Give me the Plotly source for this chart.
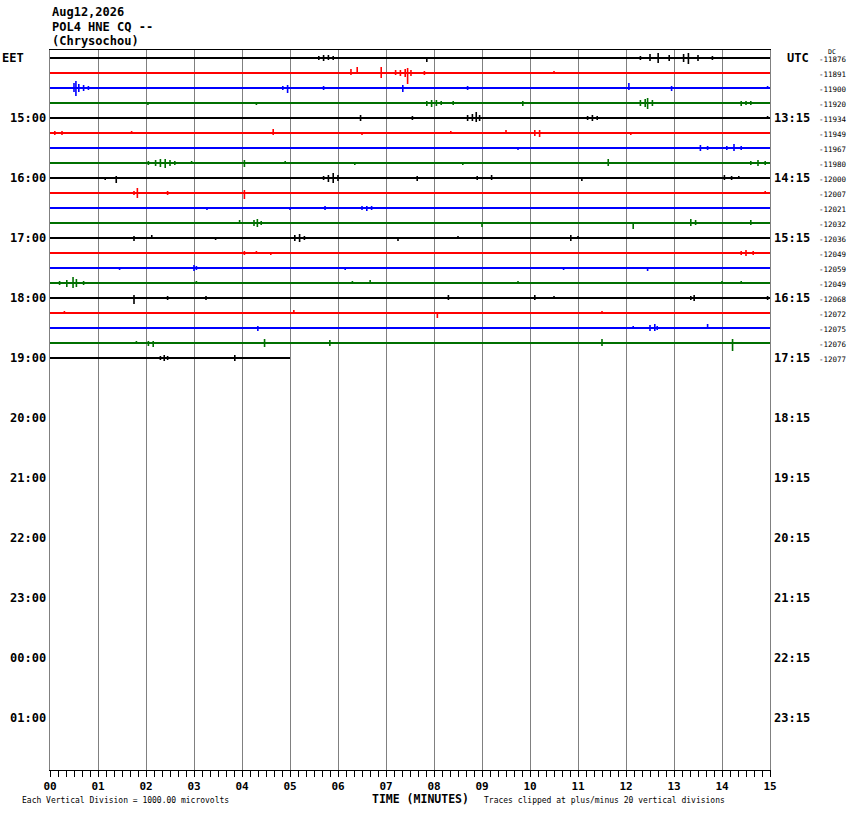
import plotly.graph_objects as go

# helicorder page: 15-minute rows, station POL4 HNE CQ
date_label = "Aug12,2026"
station_label = "POL4 HNE CQ --"
site_label = "(Chrysochou)"

n_rows = 48                      # 12 hours of 15-minute lines on the page
last_row = 20                    # row still being recorded
last_row_end = 5.0               # minutes written on the last row
trace_colors = ["#000000", "#ff0000", "#0000ff", "#007000"]

eet_labels = ["15:00", "16:00", "17:00", "18:00", "19:00", "20:00",
              "21:00", "22:00", "23:00", "00:00", "01:00"]
utc_labels = ["13:15", "14:15", "15:15", "16:15", "17:15", "18:15",
              "19:15", "20:15", "21:15", "22:15", "23:15"]
dc_values = [-11876, -11891, -11900, -11920, -11934, -11949, -11967,
             -11980, -12000, -12007, -12021, -12032, -12036, -12049,
             -12059, -12049, -12068, -12072, -12075, -12076, -12077]

minute_labels = ["%02d" % m for m in range(16)]

# wiggles read off each row: (minute, deflection up, deflection down)
# deflection in 1/15 of the line spacing
events = {
    0: [(5.6, 2, 2), (5.7, 3, 3), (5.8, 3, 2), (5.9, 2, 2), (7.85, 1, 4),
        (12.3, 2, 2), (12.5, 4, 3), (12.67, 5, 5), (12.9, 3, 3),
        (13.2, 4, 4), (13.3, 5, 6), (13.5, 3, 3), (13.8, 2, 2)],
    1: [(6.27, 4, 2), (6.4, 6, 1), (6.9, 6, 5), (7.2, 3, 2), (7.3, 3, 3),
        (7.4, 4, 4), (7.45, 5, 11), (7.52, 3, 3), (7.8, 2, 2), (10.5, 2, 1)],
    2: [(0.5, 5, 4), (0.54, 7, 8), (0.6, 4, 4), (0.7, 3, 3), (0.8, 2, 2),
        (4.85, 2, 2), (4.95, 3, 5), (5.7, 2, 2), (7.35, 3, 4), (8.7, 2, 2),
        (12.06, 5, 2), (12.95, 2, 3), (14.95, 2, 1)],
    3: [(2.04, 1, 2), (4.3, 1, 2), (7.85, 2, 3), (7.95, 3, 4), (8.05, 3, 3),
        (8.15, 2, 2), (8.4, 2, 2), (9.85, 2, 3), (12.3, 3, 3), (12.4, 4, 4),
        (12.45, 5, 6), (12.55, 3, 3), (14.4, 2, 3), (14.5, 2, 2), (14.6, 2, 2)],
    4: [(6.47, 3, 3), (7.55, 2, 2), (8.7, 3, 3), (8.8, 4, 3), (8.88, 6, 4),
        (8.95, 3, 3), (11.2, 2, 2), (11.3, 3, 3), (11.4, 2, 2), (14.95, 2, 1)],
    5: [(0.1, 2, 2), (0.25, 2, 2), (1.7, 2, 1), (4.65, 4, 2), (6.5, 1, 2),
        (8.35, 2, 1), (9.5, 3, 1), (10.1, 3, 3), (10.2, 3, 4), (12.1, 1, 2)],
    6: [(0.75, 1, 1), (1.55, 1, 1), (9.75, 1, 2), (13.55, 3, 3),
        (13.7, 2, 2), (14.1, 2, 2), (14.25, 4, 3), (14.4, 2, 2)],
    7: [(2.05, 2, 2), (2.2, 3, 3), (2.3, 4, 4), (2.4, 4, 5), (2.5, 3, 3),
        (2.6, 2, 2), (2.95, 2, 1), (4.05, 3, 4), (4.9, 2, 1), (6.35, 1, 2),
        (8.6, 1, 2), (11.63, 4, 3), (14.6, 2, 2), (14.75, 3, 3), (14.9, 2, 2)],
    8: [(1.15, 0, 2), (1.38, 2, 5), (5.7, 2, 2), (5.8, 3, 4), (5.9, 5, 5),
        (6.0, 3, 3), (7.65, 2, 3), (8.9, 2, 2), (9.2, 3, 2), (11.08, 0, 3),
        (14.05, 3, 2), (14.2, 2, 2), (14.35, 2, 1)],
    9: [(0.77, 1, 1), (1.75, 2, 2), (1.82, 5, 5), (2.45, 2, 2),
        (4.05, 3, 6), (14.9, 2, 1)],
    10: [(3.27, 1, 2), (5.0, 1, 2), (5.73, 2, 2), (6.5, 2, 2), (6.6, 2, 3),
         (6.7, 2, 2), (7.45, 1, 1)],
    11: [(3.95, 3, 0), (4.25, 3, 3), (4.32, 4, 4), (4.4, 2, 2), (9.0, 0, 4),
         (12.15, 0, 6), (13.35, 4, 3), (13.45, 3, 2), (14.6, 3, 2)],
    12: [(1.75, 2, 3), (2.12, 3, 0), (3.45, 1, 2), (5.1, 3, 3), (5.2, 4, 4),
         (5.3, 2, 2), (7.25, 0, 3), (8.5, 2, 1), (10.85, 3, 3), (11.0, 2, 1)],
    13: [(1.15, 1, 1), (4.05, 2, 2), (4.3, 2, 1), (4.6, 1, 2), (12.85, 1, 1),
         (14.4, 2, 2), (14.5, 3, 3), (14.65, 2, 2)],
    14: [(1.45, 0, 2), (3.0, 3, 3), (3.05, 2, 2), (6.15, 0, 2),
         (10.7, 0, 2), (12.45, 0, 3)],
    15: [(0.2, 2, 2), (0.35, 3, 4), (0.48, 6, 5), (0.55, 4, 4), (0.7, 2, 2),
         (3.05, 2, 1), (5.8, 1, 1), (6.3, 2, 1), (6.67, 3, 1), (9.75, 2, 1),
         (14.0, 2, 1), (14.4, 2, 1)],
    16: [(1.75, 3, 6), (2.45, 2, 2), (3.25, 2, 2), (8.3, 3, 2), (10.1, 3, 2),
         (10.5, 2, 1), (13.35, 2, 2), (13.42, 3, 3), (14.95, 2, 2)],
    17: [(0.3, 2, 1), (5.08, 3, 1), (8.07, 0, 5), (11.5, 2, 1)],
    18: [(4.33, 2, 3), (12.15, 2, 1), (12.5, 3, 3), (12.6, 4, 3),
         (12.65, 2, 2), (13.7, 4, 0)],
    19: [(1.8, 2, 1), (2.05, 2, 3), (2.15, 2, 4), (4.47, 4, 4), (5.83, 3, 3),
         (11.5, 4, 3), (14.22, 4, 8)],
    20: [(2.3, 2, 2), (2.38, 3, 3), (2.45, 2, 2), (3.85, 3, 3)],
}

fig = go.Figure()

for row in range(last_row + 1):
    end = last_row_end if row == last_row else 15.0
    color = trace_colors[row % 4]
    # the flat part of the line
    fig.add_trace(go.Scatter(x=[0, end], y=[row, row], mode="lines",
                             line=dict(color=color, width=2),
                             hoverinfo="skip", showlegend=False))
    # the wiggles
    xs, ys = [], []
    for minute, up, down in events.get(row, []):
        if minute > end:
            continue
        xs += [minute, minute, None]
        ys += [row - up / 15.0, row + down / 15.0, None]
    if xs:
        fig.add_trace(go.Scatter(x=xs, y=ys, mode="lines",
                                 line=dict(color=color, width=1.6),
                                 hoverinfo="skip", showlegend=False))

mono = "DejaVu Sans Mono"
ann = []
# header
for txt, py in [(date_label, 12), (station_label, 27), (site_label, 41)]:
    ann.append(dict(text=txt, x=0, y=(770 - py) / 720, xref="paper", yref="paper",
                    xanchor="left", yanchor="middle", showarrow=False,
                    font=dict(family=mono, size=12, color="black", weight="bold")))

# zone names
ann.append(dict(text="EET", x=-50 / 720, y=0, xref="paper", yref="y",
                xanchor="left", yanchor="middle", showarrow=False,
                font=dict(family=mono, size=12, color="black", weight="bold")))
ann.append(dict(text="UTC", x=1 + 15 / 720, y=0, xref="paper", yref="y",
                xanchor="left", yanchor="middle", showarrow=False,
                font=dict(family=mono, size=12, color="black", weight="bold")))

# hour labels every 4 rows
for i, (left, right) in enumerate(zip(eet_labels, utc_labels)):
    r = 4 * (i + 1)
    ann.append(dict(text=left, x=0, y=r, xref="paper", yref="y", xshift=-2,
                    xanchor="right", yanchor="middle", showarrow=False,
                    font=dict(family=mono, size=12, color="black", weight="bold")))
    ann.append(dict(text=right, x=1, y=r, xref="paper", yref="y", xshift=2,
                    xanchor="left", yanchor="middle", showarrow=False,
                    font=dict(family=mono, size=12, color="black", weight="bold")))

# DC offsets of each row
ann.append(dict(text="DC", x=1 + 56 / 720, y=-0.4, xref="paper", yref="y",
                xanchor="left", yanchor="middle", showarrow=False,
                font=dict(family=mono, size=6.5, color="black")))
for row, dc in enumerate(dc_values):
    ann.append(dict(text=str(dc), x=1 + 47 / 720, y=row + 0.1, xref="paper", yref="y",
                    xanchor="left", yanchor="middle", showarrow=False,
                    font=dict(family=mono, size=7.5, color="black")))

# footer
ann.append(dict(text="TIME (MINUTES)", x=(421 - 50) / 720, y=(770 - 799) / 720,
                xref="paper", yref="paper", xanchor="center", yanchor="middle",
                showarrow=False,
                font=dict(family=mono, size=11.5, color="black", weight="bold")))
ann.append(dict(text="Each Vertical Division = 1000.00 microvolts",
                x=(20 - 50) / 720, y=(770 - 800) / 720, xref="paper", yref="paper",
                xanchor="left", yanchor="middle", showarrow=False,
                font=dict(family=mono, size=8, color="black")))
ann.append(dict(text="Traces clipped at plus/minus 20 vertical divisions",
                x=(482 - 50) / 720, y=(770 - 800) / 720, xref="paper", yref="paper",
                xanchor="left", yanchor="middle", showarrow=False,
                font=dict(family=mono, size=8, color="black")))

fig.update_layout(
    width=850, height=814,
    margin=dict(l=50, r=80, t=50, b=44),
    paper_bgcolor="white", plot_bgcolor="white",
    annotations=ann,
    xaxis=dict(range=[0, 15], tickvals=list(range(16)), ticktext=minute_labels,
               showgrid=True, gridcolor="#808080", gridwidth=1,
               ticks="outside", ticklen=6, tickcolor="black", tickwidth=1,
               minor=dict(dtick=1 / 6, ticks="outside", ticklen=6,
                          tickcolor="black", tickwidth=1, showgrid=False),
               showline=True, linecolor="black", linewidth=1, mirror=True,
               zeroline=False,
               tickfont=dict(family=mono, size=11, color="black", weight="bold")),
    yaxis=dict(range=[n_rows - 0.533, -0.533], showticklabels=False,
               showgrid=False, zeroline=False, ticks="",
               showline=True, linecolor="#808080", linewidth=1, mirror=True),
)

# drop the browser's default page margin so the figure sits at the corner
fig.write_html("out.html", config={"displayModeBar": False},
               post_script="document.body.style.margin = '0';")
